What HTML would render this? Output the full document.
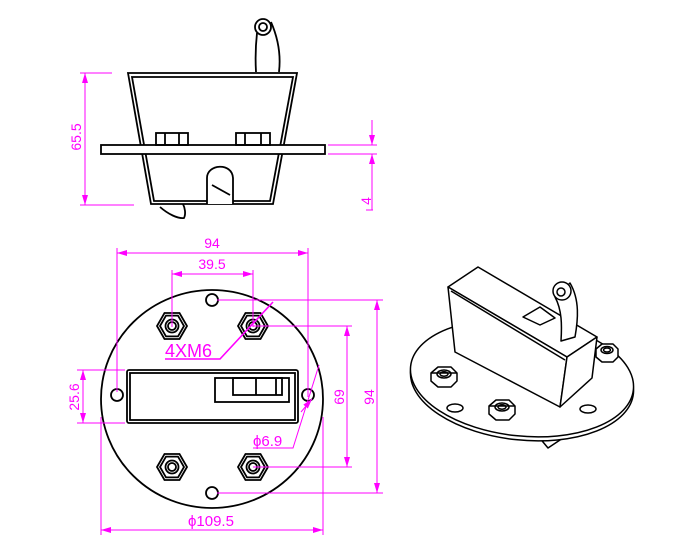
<!DOCTYPE html>
<html><head><meta charset="utf-8"><style>
html,body{margin:0;padding:0;background:#fff;}
svg{display:block;}
text{font-family:"Liberation Sans",sans-serif;fill:#f0f;}
</style></head><body>
<svg width="700" height="550" viewBox="0 0 700 550" xmlns="http://www.w3.org/2000/svg">
<defs>
<marker id="a" viewBox="0 0 10 6" refX="10" refY="3" markerWidth="10" markerHeight="6" orient="auto-start-reverse" markerUnits="userSpaceOnUse"><path d="M0,0L10,3L0,6z" fill="#f0f"/></marker>
</defs>
<!-- TOP VIEW -->
<g fill="none" stroke="#000" stroke-width="1.8">
<path d="M256,72 C255,55 256,42 257,33 M279,72 C281,55 278,38 271,22"/>
<circle cx="263" cy="27" r="8" fill="#fff"/><circle cx="263" cy="27" r="4"/>
<path d="M128,73 L297,73 L273,204 L151,204 Z" fill="#fff"/>
<path d="M132,77 L293,77 L270,201 L154,201 Z"/>
<rect x="101" y="145" width="224" height="9" fill="#fff"/>
<rect x="156" y="133" width="32" height="12"/><line x1="165" y1="133" x2="165" y2="145"/><line x1="179" y1="133" x2="179" y2="145"/>
<rect x="236" y="133" width="34" height="12"/><line x1="245" y1="133" x2="245" y2="145"/><line x1="261" y1="133" x2="261" y2="145"/>
<path d="M207,204 L207,178 C207,164 232,162 233,178 L233,204" fill="#fff"/>
<line x1="212" y1="185" x2="230" y2="195"/>
<path d="M160,207 C168,214 178,219 184,218 C186,214 185,208 183,204"/>
</g>
<g stroke="#f0f" stroke-width="1" fill="none">
<line x1="80" y1="73" x2="112" y2="73"/><line x1="80" y1="205" x2="134" y2="205"/>
<line x1="85" y1="73" x2="85" y2="205" marker-start="url(#a)" marker-end="url(#a)"/>
<line x1="328" y1="145" x2="377" y2="145"/><line x1="328" y1="154" x2="377" y2="154"/>
<line x1="372" y1="120" x2="372" y2="145" marker-end="url(#a)"/>
<line x1="372" y1="210" x2="372" y2="154" marker-end="url(#a)"/>
<line x1="366" y1="210" x2="373" y2="210"/>
</g>
<text transform="translate(81,137) rotate(-90)" font-size="14" text-anchor="middle">65.5</text>
<text transform="translate(371,201) rotate(-90)" font-size="14" text-anchor="middle">4</text>

<!-- FRONT VIEW -->
<g fill="none" stroke="#000" stroke-width="1.8">
<ellipse cx="212" cy="399" rx="111" ry="109"/>
<circle cx="212" cy="300" r="6"/><circle cx="212" cy="493" r="6"/>
<circle cx="117" cy="395" r="6"/><circle cx="308" cy="395" r="6"/>
<rect x="127" y="370" width="171" height="53" rx="2"/>
<rect x="130" y="373" width="165" height="47"/>
<rect x="215" y="378" width="74" height="24"/>
<rect x="233" y="378" width="49" height="17"/>
<line x1="256" y1="378" x2="256" y2="395"/><line x1="276" y1="378" x2="276" y2="395"/>
</g>
<g fill="none" stroke="#000" stroke-width="1.8">
<g transform="translate(172,326)"><polygon points="15,0 7.5,13 -7.5,13 -15,0 -7.5,-13 7.5,-13"/><polygon points="12,0 6,10.4 -6,10.4 -12,0 -6,-10.4 6,-10.4"/><circle r="6.5"/><circle r="4"/></g>
<g transform="translate(253,326)"><polygon points="15,0 7.5,13 -7.5,13 -15,0 -7.5,-13 7.5,-13"/><polygon points="12,0 6,10.4 -6,10.4 -12,0 -6,-10.4 6,-10.4"/><circle r="6.5"/><circle r="4"/></g>
<g transform="translate(172,467)"><polygon points="15,0 7.5,13 -7.5,13 -15,0 -7.5,-13 7.5,-13"/><polygon points="12,0 6,10.4 -6,10.4 -12,0 -6,-10.4 6,-10.4"/><circle r="6.5"/><circle r="4"/></g>
<g transform="translate(253,467)"><polygon points="15,0 7.5,13 -7.5,13 -15,0 -7.5,-13 7.5,-13"/><polygon points="12,0 6,10.4 -6,10.4 -12,0 -6,-10.4 6,-10.4"/><circle r="6.5"/><circle r="4"/></g>
</g>
<g stroke="#f0f" stroke-width="1" fill="none">
<line x1="117" y1="248" x2="117" y2="392"/><line x1="308" y1="248" x2="308" y2="397"/>
<line x1="117" y1="253" x2="308" y2="253" marker-start="url(#a)" marker-end="url(#a)"/>
<line x1="172" y1="270" x2="172" y2="327"/><line x1="253" y1="270" x2="253" y2="327"/>
<line x1="172" y1="274" x2="253" y2="274" marker-start="url(#a)" marker-end="url(#a)"/>
<path d="M165,359 L220,359 L273,302" stroke-width="1.6"/>
<line x1="217" y1="300" x2="383" y2="300"/><line x1="217" y1="493" x2="383" y2="493"/>
<line x1="377" y1="300" x2="377" y2="493" marker-start="url(#a)" marker-end="url(#a)"/>
<line x1="253" y1="326" x2="352" y2="326"/><line x1="253" y1="467" x2="352" y2="467"/>
<line x1="347" y1="326" x2="347" y2="467" marker-start="url(#a)" marker-end="url(#a)"/>
<path d="M319,365 L293,448 L253,448"/>
<line x1="301" y1="412" x2="312" y2="399" marker-end="url(#a)"/>
<line x1="101" y1="417" x2="101" y2="535"/><line x1="323" y1="417" x2="323" y2="535"/>
<line x1="101" y1="530" x2="323" y2="530" marker-start="url(#a)" marker-end="url(#a)"/>
<line x1="77" y1="370" x2="125" y2="370"/><line x1="77" y1="423" x2="125" y2="423"/>
<line x1="83" y1="370" x2="83" y2="423" marker-start="url(#a)" marker-end="url(#a)"/>
</g>
<text x="212" y="248" font-size="14" text-anchor="middle">94</text>
<text x="212" y="269" font-size="14" text-anchor="middle">39.5</text>
<text x="165" y="357" font-size="18">4XM6</text>
<text transform="translate(374,397) rotate(-90)" font-size="14" text-anchor="middle">94</text>
<text transform="translate(344,397) rotate(-90)" font-size="14" text-anchor="middle">69</text>
<text x="253" y="446" font-size="15">ϕ6.9</text>
<text x="188" y="526" font-size="15">ϕ109.5</text>
<text transform="translate(79,397) rotate(-90)" font-size="14" text-anchor="middle">25.6</text>

<!-- ISO VIEW -->
<g fill="none" stroke="#000" stroke-width="1.5" stroke-linejoin="round">
<path d="M538,436 L548,448 L560,440 L585,425"/>
<ellipse cx="522" cy="382" rx="112" ry="58" transform="rotate(6 522 382)" fill="#fff"/>
<ellipse cx="522" cy="378" rx="112" ry="58" transform="rotate(6 522 378)" fill="#fff"/>
<ellipse cx="455" cy="408" rx="8" ry="4"/><ellipse cx="588" cy="409" rx="8" ry="4"/>
<g fill="#fff">
<polygon points="448,287 478,267 597,337 567,357"/>
<polygon points="448,287 567,357 560,407 455,352"/>
<polygon points="567,357 597,337 592,378 560,407"/>
</g>
<line x1="451" y1="291" x2="565" y2="360"/>
<polygon points="523,317 540,307 555,318 540,325" fill="#fff"/>
<path d="M555,297 C562,310 562,325 561,341 L575,337 C578,320 580,300 570,283 Z" fill="#fff"/>
<circle cx="562" cy="291" r="9" fill="#fff"/><circle cx="561" cy="292" r="4"/>
<g fill="#fff">
<g transform="translate(444,377)"><polygon points="-13,-4 -6,-10 7,-10 13,-4 13,4 7,10 -6,10 -13,4"/><ellipse rx="7" ry="4" cy="-3"/><ellipse rx="4" ry="2.2" cy="-3"/><line x1="-13" y1="-4" x2="13" y2="-4"/></g>
<g transform="translate(502,410)"><polygon points="-13,-4 -6,-10 7,-10 13,-4 13,4 7,10 -6,10 -13,4"/><ellipse rx="7" ry="4" cy="-3"/><ellipse rx="4" ry="2.2" cy="-3"/><line x1="-13" y1="-4" x2="13" y2="-4"/></g>
<g transform="translate(607,353)"><polygon points="-11,-4 -5,-9 6,-9 11,-4 11,4 6,9 -5,9 -11,4"/><ellipse rx="6" ry="3.5" cy="-3"/><ellipse rx="3.5" ry="2" cy="-3"/></g>
</g>
</g>
</svg>
</body></html>
